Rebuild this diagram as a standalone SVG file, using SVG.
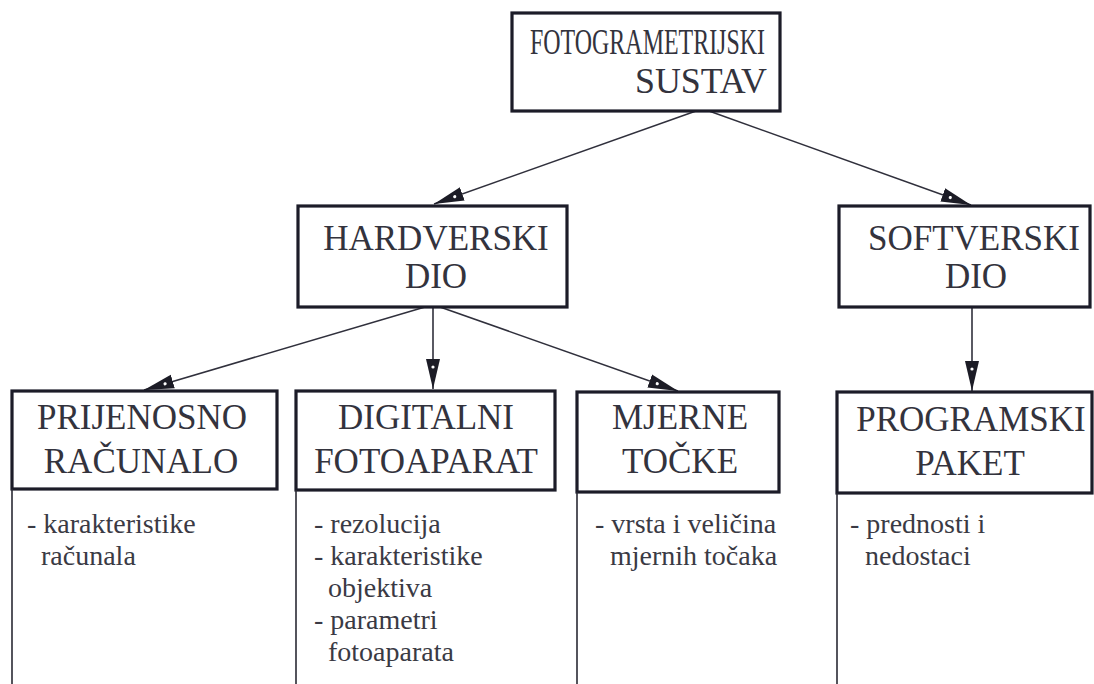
<svg xmlns="http://www.w3.org/2000/svg" width="1094" height="684" viewBox="0 0 1094 684">
<style>
.box{fill:#fff;stroke:#1c1c28;stroke-width:3.2}
.t{font-family:"Liberation Serif","DejaVu Serif","Times New Roman",Times,serif;font-size:35px;fill:#33333d;text-anchor:middle}
.b{font-family:"Liberation Serif","DejaVu Serif","Times New Roman",Times,serif;font-size:28px;fill:#3a3a44}
.ext{stroke:#2a2a34;stroke-width:1.6;fill:none}
.con{stroke:#30303c;stroke-width:1.6;fill:none;marker-end:url(#ah)}
</style>
<defs>
<marker id="ah" markerUnits="userSpaceOnUse" markerWidth="32" markerHeight="15" refX="30" refY="7.5" orient="auto" viewBox="0 0 32 15">
<path d="M0,0.5 L30,7.5 L0,14.5 Z" fill="#1c1c26"/>
<circle cx="8" cy="7.5" r="1.6" fill="#fff"/>
</marker>
</defs>
<rect width="1094" height="684" fill="#fff"/>
<g id="connectors">
<line class="con" x1="696" y1="111" x2="434" y2="204"/>
<line class="con" x1="709" y1="111" x2="971" y2="205"/>
<line class="con" x1="425" y1="307" x2="144" y2="390"/>
<line class="con" x1="433" y1="307" x2="433" y2="389"/>
<line class="con" x1="440" y1="307" x2="678" y2="391"/>
<line class="con" x1="972" y1="307" x2="972" y2="391"/>
</g>
<g id="fotogrametrijski-sustav">
<rect class="box" x="512" y="13" width="268" height="98"/>
<text class="t" x="530" y="54" textLength="235" lengthAdjust="spacingAndGlyphs" style="text-anchor:start">FOTOGRAMETRIJSKI</text>
<text class="t" x="635" y="93" textLength="132" lengthAdjust="spacingAndGlyphs" style="text-anchor:start">SUSTAV</text>
</g>
<g id="hardverski-dio">
<rect class="box" x="298" y="206" width="269" height="101"/>
<text class="t" x="436" y="250">HARDVERSKI</text>
<text class="t" x="436" y="288">DIO</text>
</g>
<g id="softverski-dio">
<rect class="box" x="839" y="206" width="251" height="101"/>
<text class="t" x="974" y="250">SOFTVERSKI</text>
<text class="t" x="976" y="288">DIO</text>
</g>
<g id="prijenosno-racunalo">
<rect class="box" x="12" y="391" width="265" height="98"/>
<text class="t" x="142" y="429">PRIJENOSNO</text>
<text class="t" x="141" y="473">RAČUNALO</text>
<line class="ext" x1="12" y1="489" x2="12" y2="684"/>
<text class="b" x="27" y="533">- karakteristike</text>
<text class="b" x="41" y="565">računala</text>
</g>
<g id="digitalni-fotoaparat">
<rect class="box" x="296" y="391" width="259" height="99"/>
<text class="t" x="426" y="429">DIGITALNI</text>
<text class="t" x="426" y="473">FOTOAPARAT</text>
<line class="ext" x1="296" y1="490" x2="296" y2="684"/>
<text class="b" x="314" y="533">- rezolucija</text>
<text class="b" x="314" y="565">- karakteristike</text>
<text class="b" x="328" y="597">objektiva</text>
<text class="b" x="314" y="629">- parametri</text>
<text class="b" x="328" y="661">fotoaparata</text>
</g>
<g id="mjerne-tocke">
<rect class="box" x="577" y="392" width="202" height="100"/>
<text class="t" x="680" y="429">MJERNE</text>
<text class="t" x="680" y="473">TOČKE</text>
<line class="ext" x1="577" y1="492" x2="577" y2="684"/>
<text class="b" x="595" y="533">- vrsta i veličina</text>
<text class="b" x="610" y="565">mjernih točaka</text>
</g>
<g id="programski-paket">
<rect class="box" x="837" y="392" width="255" height="101"/>
<text class="t" x="971" y="431">PROGRAMSKI</text>
<text class="t" x="970" y="475">PAKET</text>
<line class="ext" x1="837" y1="493" x2="837" y2="684"/>
<text class="b" x="850" y="533">- prednosti i</text>
<text class="b" x="865" y="565">nedostaci</text>
</g>
</svg>
